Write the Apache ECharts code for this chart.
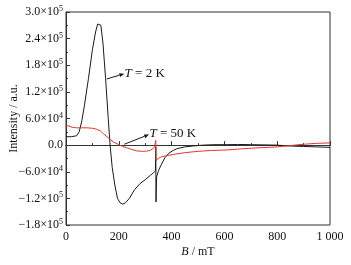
<!DOCTYPE html>
<html><head><meta charset="utf-8">
<script src="https://cdn.jsdelivr.net/npm/echarts@6/dist/echarts.min.js"></script>
<style>html,body{margin:0;padding:0;background:#fff}#c{width:351px;height:265px}</style>
</head><body><div id="c"></div>
<script>
// B (mT) for T = 2 K
var b2K = [0,20,40,50,60,70,85,100,112,120,126,132,140,150,160,167,175,185,195,205,215,225,240,260,280,300,320,330,334,337,339,340,341,343,350,360,375,390,406,420,450,480,520,560,610,650,700,750,800,850,900,950,1000];
var v2K = [1.9e4,1.9e4,2.1e4,3.0e4,5.5e4,9e4,15e4,21.5e4,25.5e4,27.3e4,27.7e4,27e4,23e4,15e4,6e4,0,-5e4,-9e4,-12e4,-13e4,-13.3e4,-13e4,-12e4,-10e4,-8.7e4,-7.8e4,-6.8e4,-6.3e4,-6.0e4,-6.4e4,-5.8e4,-0.4e4,-12.8e4,-7.2e4,-5.8e4,-4.5e4,-2.8e4,-1.8e4,-1.2e4,-0.8e4,-0.4e4,-0.2e4,0,0.1e4,0.1e4,0.15e4,0.1e4,0.05e4,0,-0.2e4,-0.3e4,-0.4e4,-0.5e4];
// B (mT) for T = 50 K
var b50K = [0,10,25,40,60,80,100,115,130,141,155,167,180,198,215,230,250,268,290,306,318,326,331,335,338,340,341,343,350,362,380,406,450,500,550,608,650,700,750,798,850,900,950,1000];
var v50K = [4.5e4,4.3e4,4.0e4,3.9e4,3.9e4,3.9e4,3.8e4,3.6e4,3.2e4,2.6e4,1.9e4,1.3e4,0.7e4,0.15e4,-0.3e4,-0.6e4,-1.0e4,-1.3e4,-1.4e4,-1.35e4,-1.2e4,-0.9e4,-0.6e4,-0.5e4,-0.8e4,1.1e4,-3.4e4,-3.3e4,-3.0e4,-2.6e4,-2.4e4,-2.1e4,-1.7e4,-1.4e4,-1.2e4,-1.1e4,-0.9e4,-0.7e4,-0.55e4,-0.4e4,-0.1e4,0.2e4,0.4e4,0.5e4];
var xTicks = [0,200,400,600,800,1000];
var xTickLabels = ['0','200','400','600','800','1 000'];
var yTickLabels = ['\u22121.8\u00d710|5','\u22121.2\u00d710|5','\u22126.0\u00d710|4','0.0','6.0\u00d710|4','1.2\u00d710|5','1.8\u00d710|5','2.4\u00d710|5','3.0\u00d710|5'];

function zip(a,b){return a.map(function(x,i){return [x,b[i]];});}
var FONT = '"Liberation Serif","Times New Roman",serif';
var chart = echarts.init(document.getElementById('c'));
chart.setOption({
  animation:false,
  grid:{left:66,right:21,top:12,bottom:40,containLabel:false,outerBoundsMode:'none',show:true,borderColor:'#333',borderWidth:1},
  xAxis:{type:'value',min:0,max:1000,interval:200,
    name:'{i|B} / mT',nameLocation:'middle',nameGap:21,nameMoveOverlap:false,
    nameTextStyle:{fontFamily:FONT,fontSize:12,color:'#111',rich:{i:{fontStyle:'italic',fontFamily:FONT,fontSize:12,color:'#111'}}},
    axisLine:{lineStyle:{color:'#333',width:1}},
    axisTick:{inside:true,length:4,lineStyle:{color:'#333'}},
    minorTick:{show:true,splitNumber:2,length:2,lineStyle:{color:'#333'}},
    splitLine:{show:false},
    axisLabel:{margin:6,fontFamily:FONT,fontSize:12,color:'#111',
      formatter:function(v){var i=xTicks.indexOf(v);return i>=0?xTickLabels[i]:'';}}
  },
  yAxis:{type:'value',min:-1.8e5,max:3.0e5,interval:6e4,
    name:'Intensity / a.u.',nameLocation:'middle',nameGap:46,nameMoveOverlap:false,
    nameTextStyle:{fontFamily:FONT,fontSize:12,color:'#111'},
    axisLine:{lineStyle:{color:'#333',width:1}},
    axisTick:{inside:true,length:4,lineStyle:{color:'#333'}},
    minorTick:{show:true,splitNumber:2,length:2,lineStyle:{color:'#333'}},
    splitLine:{show:false},
    axisLabel:{margin:3,fontFamily:FONT,fontSize:12,color:'#111',
      formatter:function(v){
        var i=Math.round((v+1.8e5)/6e4);
        var s=yTickLabels[i]; if(!s) return '';
        var p=s.split('|');
        return p.length>1 ? p[0]+'{s|'+p[1]+'}' : p[0];
      },
      rich:{s:{fontSize:8,fontFamily:FONT,color:'#111',verticalAlign:'top',padding:[0,0,6,0]}}}
  },
  series:[
    {type:'line',data:zip(b2K,v2K),showSymbol:false,lineStyle:{color:'#1a1a1a',width:1}},
    {type:'line',data:zip(b50K,v50K),showSymbol:false,lineStyle:{color:'#e8342a',width:1}}
  ]
});

// annotations in data coordinates
var notes = [
  {from:[154,1.49e5],to:[221,1.61e5],text:[222,1.62e5],label:'= 2 K'},
  {from:[221,0.2e4],to:[315,2.4e4],text:[316,2.7e4],label:'= 50 K'}
];
var g=[];
notes.forEach(function(n){
  var p1=chart.convertToPixel({gridIndex:0},n.from);
  var p2=chart.convertToPixel({gridIndex:0},n.to);
  var pt=chart.convertToPixel({gridIndex:0},n.text);
  var ang=Math.atan2(p2[1]-p1[1],p2[0]-p1[0]);
  var L=5,W=2;
  var bx=p2[0]-L*Math.cos(ang), by=p2[1]-L*Math.sin(ang);
  g.push({type:'line',shape:{x1:p1[0],y1:p1[1],x2:bx,y2:by},style:{stroke:'#1a1a1a',lineWidth:1}});
  g.push({type:'polygon',shape:{points:[[p2[0],p2[1]],[bx-W*Math.sin(ang),by+W*Math.cos(ang)],[bx+W*Math.sin(ang),by-W*Math.cos(ang)]]},style:{fill:'#1a1a1a'}});
  g.push({type:'text',x:pt[0],y:pt[1],style:{text:'{i|T} '+n.label,fontFamily:FONT,fontSize:13,fill:'#111',verticalAlign:'middle',
    rich:{i:{fontStyle:'italic',fontFamily:FONT,fontSize:13,fill:'#111'}}}});
});
chart.setOption({graphic:g});
</script></body></html>
